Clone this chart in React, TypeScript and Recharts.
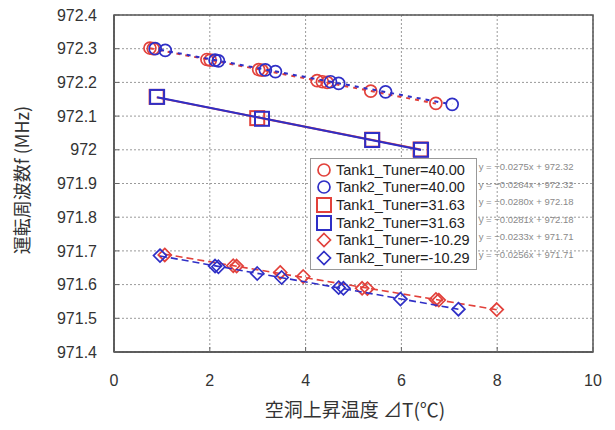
import { ScatterChart, Scatter, XAxis, YAxis, CartesianGrid, ReferenceArea, Legend, Label } from "recharts"

const RED = "#e2413b"
const BLUE = "#2f2fc6"
const FONT = "'Liberation Sans', Arial, sans-serif"
const CJK = "'Noto Sans CJK JP', 'Liberation Sans', sans-serif"

const xTicks = [0, 2, 4, 6, 8, 10]
const yTicks = [971.4, 971.5, 971.6, 971.7, 971.8, 971.9, 972, 972.1, 972.2, 972.3, 972.4]

// [dT, f]
const tank1Tuner40 = [
  [0.75, 972.302], [0.82, 972.3], [1.94, 972.268], [2.01, 972.266], [3.02, 972.238], [3.09, 972.236],
  [4.24, 972.205], [4.35, 972.202], [4.45, 972.2], [5.36, 972.174], [6.72, 972.138],
]
const tank2Tuner40 = [
  [0.86, 972.3], [1.07, 972.295], [2.11, 972.266], [2.18, 972.264], [3.16, 972.237], [3.37, 972.232],
  [4.52, 972.202], [4.69, 972.197], [5.67, 972.172], [7.06, 972.135],
]
const tank1Tuner3163 = [[0.89, 972.157], [2.99, 972.094], [5.39, 972.03], [6.4, 972.001]]
const tank2Tuner3163 = [[0.9, 972.157], [3.09, 972.092], [5.39, 972.029], [6.41, 972.0]]
const tank1TunerM1029 = [
  [1.06, 971.688], [2.49, 971.656], [2.56, 971.655], [3.47, 971.636], [3.95, 971.624],
  [5.18, 971.589], [5.29, 971.588], [6.72, 971.556], [6.78, 971.554], [7.99, 971.526],
]
const tank2TunerM1029 = [
  [0.96, 971.686], [2.11, 971.655], [2.18, 971.653], [2.99, 971.633], [3.5, 971.621],
  [4.69, 971.591], [4.79, 971.589], [5.98, 971.557], [7.19, 971.527],
]

const seriesNames = [
  "Tank1_Tuner=40.00",
  "Tank2_Tuner=40.00",
  "Tank1_Tuner=31.63",
  "Tank2_Tuner=31.63",
  "Tank1_Tuner=-10.29",
  "Tank2_Tuner=-10.29",
]
const equations = [
  "y = −0.0275x + 972.32",
  "y = −0.0264x + 972.32",
  "y = −0.0280x + 972.18",
  "y = −0.0281x + 972.18",
  "y = −0.0233x + 971.71",
  "y = −0.0256x + 971.71",
]
const seriesColors = [RED, BLUE, RED, BLUE, RED, BLUE]
const seriesShapes = ["circle", "circle", "square", "square", "diamond", "diamond"]

const toPoints = (arr: number[][]) => arr.map(([x, y]) => ({ x, y }))

function Marker({ kind, color, cx, cy }: { kind: string; color: string; cx: number; cy: number }) {
  if (kind === "circle") return <circle cx={cx} cy={cy} r={6} fill="none" stroke={color} strokeWidth={1.7} />
  if (kind === "square") return <rect x={cx - 7} y={cy - 7} width={14} height={14} fill="none" stroke={color} strokeWidth={2} />
  return (
    <polygon
      points={`${cx},${cy - 6.5} ${cx + 6.5},${cy} ${cx},${cy + 6.5} ${cx - 6.5},${cy}`}
      fill="none"
      stroke={color}
      strokeWidth={1.7}
    />
  )
}

const shapeFor = (kind: string, color: string) => (p: any) => <Marker kind={kind} color={color} cx={p.cx} cy={p.cy} />

function LegendBox() {
  return (
    <div style={{ display: "flex", alignItems: "flex-start" }}>
      <div style={{ border: "1px solid #999", background: "#fff", padding: "2px 6px 2px 5px" }}>
        {seriesNames.map((name, i) => (
          <div key={name} style={{ display: "flex", alignItems: "center", height: 17.6, font: `14.5px ${FONT}`, color: "#222" }}>
            <svg width={16} height={16} style={{ marginRight: 4 }}>
              <Marker kind={seriesShapes[i]} color={seriesColors[i]} cx={8} cy={8} />
            </svg>
            {name}
          </div>
        ))}
      </div>
      <div style={{ marginLeft: 2, paddingTop: 3 }}>
        {equations.map((eq) => (
          <div key={eq} style={{ height: 17.6, lineHeight: "17.6px", font: `9.5px ${FONT}`, color: "#8a8a8a", whiteSpace: "nowrap" }}>
            {eq}
          </div>
        ))}
      </div>
    </div>
  )
}

const tickStyle = { fontSize: 16, fill: "#333", fontFamily: FONT }

export default function App() {
  return (
    <div style={{ position: "absolute", left: 0, top: 0, background: "#fff" }}>
      <ScatterChart width={615} height={430} margin={{ top: 15, right: 22, bottom: 28, left: 34 }}>
        <CartesianGrid stroke="#9a9a9a" strokeDasharray="2 2" />
        <XAxis
          type="number"
          dataKey="x"
          domain={[0, 10]}
          ticks={xTicks}
          height={50}
          tick={tickStyle}
          tickSize={-5}
          tickMargin={28}
          tickLine={{ stroke: "#666" }}
          axisLine={{ stroke: "#555", strokeWidth: 1.5 }}
          label={
            <Label
              content={() => (
                <text x={355} y={417} textAnchor="middle" fontSize={19} fill="#333" fontFamily={CJK}>
                  空洞上昇温度 ⊿T(℃)
                </text>
              )}
            />
          }
        />
        <YAxis
          type="number"
          dataKey="y"
          domain={[971.4, 972.4]}
          ticks={yTicks}
          width={80}
          tick={tickStyle}
          tickSize={-5}
          tickMargin={22}
          tickLine={{ stroke: "#666" }}
          tickFormatter={(v: number) => String(+v.toFixed(1))}
          axisLine={{ stroke: "#555", strokeWidth: 1.5 }}
          label={
            <Label
              content={() => (
                <text transform="rotate(-90)" x={-180} y={29} textAnchor="middle" fontSize={18} fill="#333" fontFamily={CJK}>
                  運転周波数f (MHz)
                </text>
              )}
            />
          }
        />
        <ReferenceArea x1={0} x2={10} y1={971.4} y2={972.4} fill="none" stroke="#555" strokeWidth={1.5} />
        <Scatter name={seriesNames[0]} data={toPoints(tank1Tuner40)} shape={shapeFor("circle", RED)} line={{ stroke: RED, strokeWidth: 2, strokeDasharray: "4 5" }} lineType="fitting" isAnimationActive={false} />
        <Scatter name={seriesNames[1]} data={toPoints(tank2Tuner40)} shape={shapeFor("circle", BLUE)} line={{ stroke: BLUE, strokeWidth: 2, strokeDasharray: "4 5", strokeDashoffset: 4 }} lineType="fitting" isAnimationActive={false} />
        <Scatter name={seriesNames[2]} data={toPoints(tank1Tuner3163)} shape={shapeFor("square", RED)} line={{ stroke: RED, strokeWidth: 2 }} lineType="fitting" isAnimationActive={false} />
        <Scatter name={seriesNames[3]} data={toPoints(tank2Tuner3163)} shape={shapeFor("square", BLUE)} line={{ stroke: BLUE, strokeWidth: 2 }} lineType="fitting" isAnimationActive={false} />
        <Scatter name={seriesNames[4]} data={toPoints(tank1TunerM1029)} shape={shapeFor("diamond", RED)} line={{ stroke: RED, strokeWidth: 1.6, strokeDasharray: "7 4" }} lineType="fitting" isAnimationActive={false} />
        <Scatter name={seriesNames[5]} data={toPoints(tank2TunerM1029)} shape={shapeFor("diamond", BLUE)} line={{ stroke: BLUE, strokeWidth: 1.6, strokeDasharray: "7 4" }} lineType="fitting" isAnimationActive={false} />
        <Legend
          layout="vertical"
          align="center"
          verticalAlign="middle"
          content={() => <LegendBox />}
          wrapperStyle={{ left: 310, top: 158, width: 300 }}
        />
      </ScatterChart>
    </div>
  )
}
